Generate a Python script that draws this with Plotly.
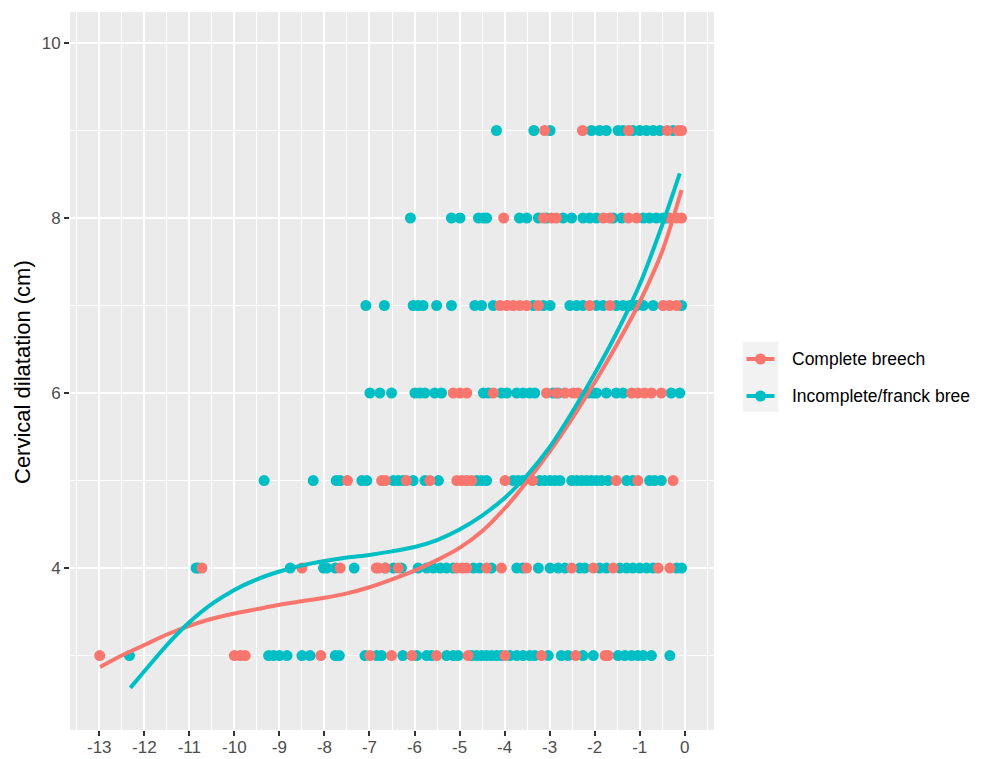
import plotly.graph_objects as go

# Colours (ggplot2 default hue palette)
RED = "#F8766D"
TEAL = "#00BFC4"

# Observations: station of the presenting part (x) for each cervical dilatation level (y)
complete_x = {
    3: [-12.99, -10.00, -9.87, -9.76, -8.08, -6.99, -6.51, -6.06, -5.51, -4.81,
        -3.99, -3.18, -2.42, -1.77, -1.70],
    4: [-10.72, -8.50, -7.65, -6.85, -6.80, -6.65, -6.36, -5.06, -4.95, -4.84,
        -4.40, -4.07, -3.51, -2.51, -2.03, -1.59, -0.59, -0.33],
    5: [-7.49, -6.73, -6.65, -6.18, -5.66, -5.06, -4.95, -4.84, -4.73, -3.99,
        -3.38, -1.52, -1.04, -0.26],
    6: [-5.14, -4.99, -4.84, -4.25, -3.07, -2.85, -2.66, -2.48, -2.37, -1.18,
        -1.04, -0.89, -0.74, -0.52],
    7: [-4.10, -3.95, -3.81, -3.66, -3.51, -3.25, -2.11, -1.66, -0.48, -0.33, -0.18],
    8: [-4.02, -3.14, -2.96, -2.85, -1.81, -1.66, -1.25, -1.07, -0.33, -0.18, -0.07],
    9: [-3.11, -2.27, -1.25, -0.39, -0.15, -0.07],
}

incomplete_x = {
    3: [-12.33, -9.24, -9.13, -9.00, -8.83, -8.50, -8.32, -7.76, -7.67, -7.10,
        -6.84, -6.73, -6.26, -5.95, -5.73, -5.62, -5.29, -5.14, -5.03, -4.73,
        -4.62, -4.51, -4.40, -4.29, -4.18, -4.07, -3.88, -3.73, -3.59, -3.44,
        -3.33, -3.03, -2.74, -2.59, -2.26, -2.03, -1.48, -1.33, -1.18, -1.04,
        -0.92, -0.74, -0.33],
    4: [-10.85, -10.80, -8.76, -8.02, -7.95, -7.76, -7.34, -6.65, -6.47, -6.29,
        -5.92, -5.73, -5.58, -5.43, -5.29, -5.14, -4.69, -4.55, -4.29, -3.73,
        -3.59, -3.25, -2.99, -2.81, -2.66, -2.33, -2.22, -1.89, -1.74, -1.44,
        -1.29, -1.15, -1.00, -0.85, -0.70, -0.18, -0.07],
    5: [-9.34, -8.25, -7.74, -7.65, -7.17, -7.06, -6.47, -6.36, -6.25, -6.03,
        -5.77, -5.47, -4.62, -4.51, -4.40, -3.81, -3.70, -3.59, -3.22, -3.11,
        -2.99, -2.88, -2.77, -2.51, -2.40, -2.29, -2.18, -2.07, -1.96, -1.85,
        -1.70, -1.29, -1.15, -0.78, -0.67, -0.52],
    6: [-6.99, -6.77, -6.51, -5.99, -5.88, -5.77, -5.55, -5.40, -4.47, -4.36,
        -4.07, -3.95, -3.73, -3.59, -3.44, -3.33, -2.92, -2.81, -2.14, -2.03,
        -1.96, -1.74, -1.52, -1.37, -0.30, -0.11],
    7: [-7.08, -6.67, -6.03, -5.92, -5.81, -5.51, -5.18, -4.66, -4.51, -4.25,
        -3.36, -3.14, -2.99, -2.55, -2.40, -2.26, -1.96, -1.81, -1.52, -1.37,
        -1.22, -1.07, -0.92, -0.70, -0.07],
    8: [-6.09, -5.18, -4.99, -4.58, -4.47, -4.40, -3.67, -3.51, -3.25, -3.07,
        -2.70, -2.51, -2.26, -2.11, -1.96, -1.59, -1.40, -0.92, -0.78, -0.63,
        -0.48, -0.41],
    9: [-4.18, -3.35, -2.99, -2.07, -1.89, -1.74, -1.48, -1.37, -1.15, -1.00,
        -0.85, -0.70, -0.55, -0.26],
}

# Smoothed trends (loess) for each group
complete_fit_x = [-12.98, -12.5, -12.0, -11.5, -11.0, -10.5, -10.0, -9.5, -9.0, -8.5,
                  -8.0, -7.5, -7.0, -6.5, -6.0, -5.5, -5.0, -4.5, -4.0, -3.5,
                  -3.0, -2.5, -2.0, -1.5, -1.0, -0.5, -0.07]
complete_fit_y = [2.87, 3.00, 3.12, 3.24, 3.34, 3.42, 3.48, 3.53, 3.58, 3.62,
                  3.66, 3.71, 3.78, 3.87, 3.97, 4.09, 4.23, 4.42, 4.68, 4.99,
                  5.33, 5.71, 6.12, 6.56, 7.04, 7.62, 8.32]
incomplete_fit_x = [-12.31, -12.0, -11.5, -11.0, -10.5, -10.0, -9.5, -9.0, -8.5, -8.0,
                    -7.5, -7.0, -6.5, -6.0, -5.5, -5.0, -4.5, -4.0, -3.5, -3.0,
                    -2.5, -2.0, -1.5, -1.0, -0.5, -0.11]
incomplete_fit_y = [2.63, 2.82, 3.12, 3.38, 3.59, 3.75, 3.87, 3.96, 4.03, 4.08,
                    4.12, 4.15, 4.19, 4.24, 4.32, 4.44, 4.60, 4.80, 5.06, 5.38,
                    5.78, 6.22, 6.70, 7.24, 7.92, 8.51]

group_labels = ["Complete breech", "Incomplete/franck bree"]
x_ticks = list(range(-13, 1))
y_ticks = [4, 6, 8, 10]


def flatten(groups):
    xs, ys = [], []
    for level, values in groups.items():
        xs.extend(values)
        ys.extend([level] * len(values))
    return xs, ys


fig = go.Figure()

ix, iy = flatten(incomplete_x)
cx, cy = flatten(complete_x)
fig.add_trace(go.Scatter(x=ix, y=iy, mode="markers",
                         marker=dict(color=TEAL, size=11, line=dict(width=0)),
                         showlegend=False))
fig.add_trace(go.Scatter(x=cx, y=cy, mode="markers",
                         marker=dict(color=RED, size=11, line=dict(width=0)),
                         showlegend=False))
fig.add_trace(go.Scatter(x=complete_fit_x, y=complete_fit_y, mode="lines",
                         line=dict(color=RED, width=4, shape="spline", smoothing=0.8),
                         showlegend=False))
fig.add_trace(go.Scatter(x=incomplete_fit_x, y=incomplete_fit_y, mode="lines",
                         line=dict(color=TEAL, width=4, shape="spline", smoothing=0.8),
                         showlegend=False))

# Plot area geometry in pixels
L, R, T, B = 70, 714, 12, 730
W, H = 985, 759


def px_x(p):
    return (p - L) / (R - L)


def px_y(p):
    return (B - p) / (B - T)


TICK_FONT = dict(family="Liberation Sans, Arial, sans-serif", size=17, color="#4D4D4D")

fig.update_layout(
    width=W, height=H,
    margin=dict(l=L, r=W - R, t=T, b=H - B, autoexpand=False),
    paper_bgcolor="white",
    plot_bgcolor="#EBEBEB",
    showlegend=False,
    xaxis=dict(
        range=[-13.65, 0.65], tickvals=x_ticks, ticktext=[str(v) for v in x_ticks],
        showgrid=True, gridcolor="white", gridwidth=2,
        minor=dict(tick0=-13.5, dtick=1, showgrid=True, gridcolor="white", gridwidth=1),
        ticks="outside", ticklen=5, tickwidth=2, tickcolor="#333333",
        ticklabelstandoff=-3,
        tickfont=TICK_FONT, zeroline=False, showline=False, fixedrange=True,
    ),
    yaxis=dict(
        range=[2.149, 10.354], tickvals=y_ticks, ticktext=[str(v) for v in y_ticks],
        showgrid=True, gridcolor="white", gridwidth=2,
        minor=dict(tick0=3, dtick=2, showgrid=True, gridcolor="white", gridwidth=1),
        ticks="outside", ticklen=5, tickwidth=2, tickcolor="#333333",
        tickfont=TICK_FONT, zeroline=False, showline=False, fixedrange=True,
    ),
)

# Y axis title
fig.add_annotation(
    text="Cervical dilatation (cm)", xref="paper", yref="paper",
    x=px_x(22), y=px_y(372), textangle=-90, showarrow=False,
    xanchor="center", yanchor="middle",
    font=dict(family="Liberation Sans, Arial, sans-serif", size=22, color="black"),
)

# Legend drawn by hand: grey key panel, line + point glyphs and labels
fig.add_shape(type="rect", xref="paper", yref="paper",
              x0=px_x(742.7), x1=px_x(778.3), y0=px_y(411.7), y1=px_y(341.7),
              fillcolor="#F2F2F2", line=dict(width=0), layer="below")
for colour, label, yc in [(RED, group_labels[0], 359), (TEAL, group_labels[1], 396)]:
    fig.add_shape(type="line", xref="paper", yref="paper",
                  x0=px_x(746.5), x1=px_x(774.5), y0=px_y(yc), y1=px_y(yc),
                  line=dict(color=colour, width=4))
    fig.add_shape(type="circle", xref="paper", yref="paper",
                  xsizemode="pixel", ysizemode="pixel",
                  xanchor=px_x(760.5), yanchor=px_y(yc),
                  x0=-5.5, x1=5.5, y0=-5.5, y1=5.5,
                  fillcolor=colour, line=dict(width=0))
    fig.add_annotation(text=label, xref="paper", yref="paper",
                       x=px_x(790), y=px_y(yc), showarrow=False,
                       xanchor="left", yanchor="middle",
                       font=dict(family="Liberation Sans, Arial, sans-serif",
                                 size=17.5, color="black"))

fig.write_html("out.html", config=dict(displayModeBar=False))
